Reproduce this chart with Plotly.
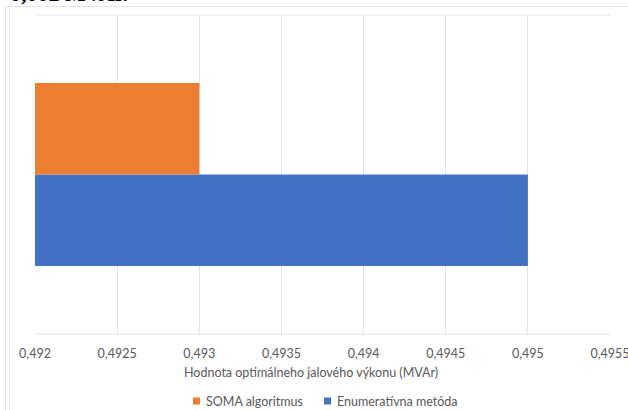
import plotly.graph_objects as go

categories = [""]
soma_values = [0.493]
enum_values = [0.495]
series_names = ["SOMA algoritmus", "Enumeratívna metóda"]
series_colors = ["#ED7D31", "#4472C4"]
tick_values = [0.492, 0.4925, 0.493, 0.4935, 0.494, 0.4945, 0.495, 0.4955]
tick_labels = ["0,492", "0,4925", "0,493", "0,4935", "0,494", "0,4945", "0,495", "0,4955"]
x_title = "Hodnota optimálneho jalového výkonu (MVAr)"
top_text = "0,002 MVAr."

W, H = 628, 410
ml, mr, mt, mb = 35, 18, 15, 76
pw, ph = W - ml - mr, H - mt - mb


def px_x(p):
    return (p - ml) / pw


def px_y(p):
    return 1 - (p - mt) / ph


fig = go.Figure()
# lower bar first (Plotly stacks grouped horizontal bars bottom-up)
fig.add_trace(go.Bar(y=categories, x=enum_values, orientation="h", name=series_names[1],
                     marker=dict(color=series_colors[1], line=dict(width=0)), showlegend=False))
fig.add_trace(go.Bar(y=categories, x=soma_values, orientation="h", name=series_names[0],
                     marker=dict(color=series_colors[0], line=dict(width=0)), showlegend=False))

font = "Lato, 'Open Sans', sans-serif"
grey = "#595959"
fig.update_layout(
    width=W, height=H,
    margin=dict(l=ml, r=mr, t=mt, b=mb, autoexpand=False),
    paper_bgcolor="white", plot_bgcolor="white",
    barmode="group", bargap=0.426, bargroupgap=0,
    font=dict(family=font, color=grey, size=12),
    xaxis=dict(range=[0.492, 0.4955], tickvals=tick_values, ticktext=tick_labels,
               showgrid=True, gridcolor="#E3E3E3", gridwidth=1, zeroline=False,
               showline=False, ticks="", ticklabeloverflow="allow", ticklabelstandoff=10,
               tickfont=dict(family=font, size=12.5, color=grey)),
    yaxis=dict(showticklabels=False, showgrid=False, zeroline=False, showline=False,
               ticks="", range=[-0.5, 0.5]),
    showlegend=False,
)

# axis title
fig.add_annotation(text=x_title, xref="paper", yref="paper", x=px_x(311), y=px_y(372),
                   xanchor="center", yanchor="middle", showarrow=False,
                   font=dict(family=font, size=12.5, color=grey))

# legend (manual, small squares)
legend_items = [(193, 204, series_names[0], series_colors[0]),
                (324, 335, series_names[1], series_colors[1])]
for sq_x, tx_x, name, col in legend_items:
    fig.add_shape(type="rect", xref="paper", yref="paper",
                  x0=px_x(sq_x), x1=px_x(sq_x + 7), y0=px_y(397.5), y1=px_y(404.5),
                  line=dict(width=0), fillcolor=col)
    fig.add_annotation(text=name, xref="paper", yref="paper", x=px_x(tx_x), y=px_y(401),
                       xanchor="left", yanchor="middle", showarrow=False,
                       font=dict(family=font, size=12.5, color=grey))

# plot area frame lines
fig.add_shape(type="line", xref="paper", yref="paper", x0=0, x1=1, y0=0, y1=0,
              line=dict(color="#E3E3E3", width=1))
fig.add_shape(type="line", xref="paper", yref="paper", x0=0, x1=1, y0=1, y1=1,
              line=dict(color="#E3E3E3", width=1))

# outer chart frame (document border)
fig.add_shape(type="line", xref="paper", yref="paper", x0=px_x(5.5), x1=px_x(5.5),
              y0=px_y(6), y1=px_y(410), line=dict(color="#E6E6E6", width=1))
fig.add_shape(type="line", xref="paper", yref="paper", x0=px_x(9.5), x1=px_x(9.5),
              y0=px_y(6), y1=px_y(410), line=dict(color="#EDEDED", width=1))
fig.add_shape(type="line", xref="paper", yref="paper", x0=px_x(5.5), x1=px_x(628),
              y0=px_y(6.5), y1=px_y(6.5), line=dict(color="#E6E6E6", width=1))

# cut-off text from the document above the chart
fig.add_annotation(text="<b>" + top_text + "</b>", xref="paper", yref="paper",
                   x=px_x(8), y=px_y(8), xanchor="left", yanchor="bottom", showarrow=False,
                   font=dict(family="Liberation Serif, serif", size=22, color="black"))

fig.write_html("out.html", config={"displayModeBar": False},
               post_script="document.body.style.margin='0';document.body.style.overflow='hidden';")
